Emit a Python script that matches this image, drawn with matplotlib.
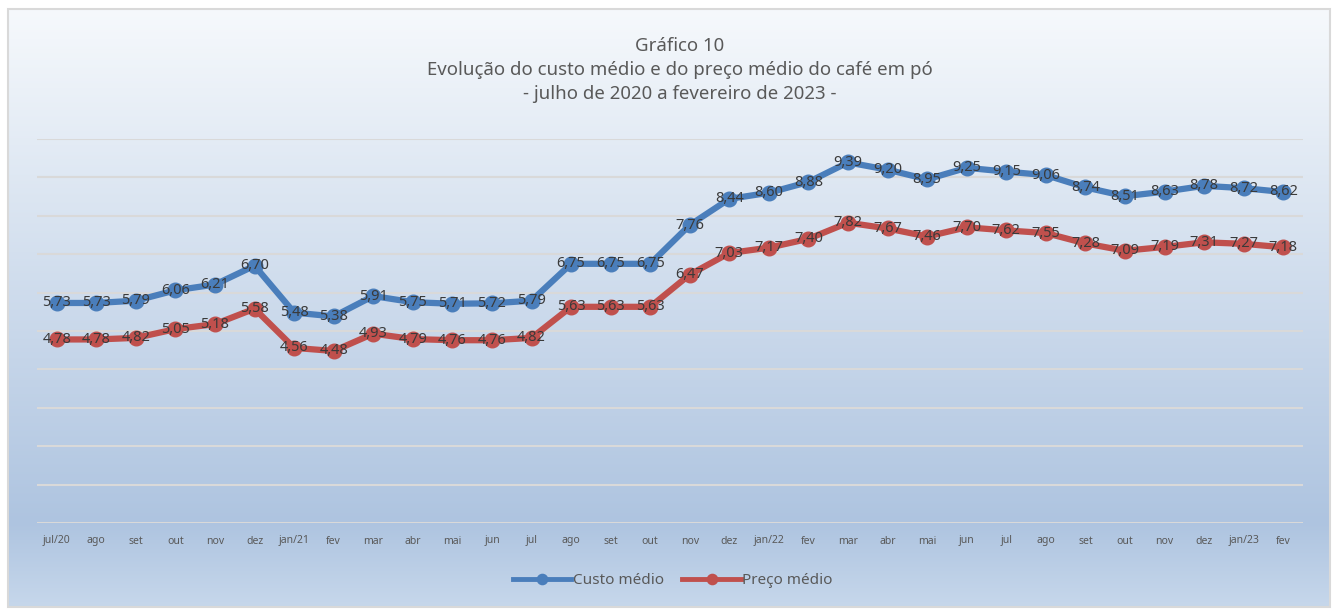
import numpy as np
import matplotlib
matplotlib.use("Agg")
import matplotlib.pyplot as plt
from matplotlib.colors import LinearSegmentedColormap
from matplotlib.patches import Rectangle

plt.rcParams['font.family'] = ['Noto Sans', 'DejaVu Sans']

# Data
meses = ['jul/20', 'ago', 'set', 'out', 'nov', 'dez', 'jan/21', 'fev', 'mar', 'abr',
         'mai', 'jun', 'jul', 'ago', 'set', 'out', 'nov', 'dez', 'jan/22', 'fev',
         'mar', 'abr', 'mai', 'jun', 'jul', 'ago', 'set', 'out', 'nov', 'dez',
         'jan/23', 'fev']
custo_medio = [5.73, 5.73, 5.79, 6.06, 6.21, 6.70, 5.48, 5.38, 5.91, 5.75,
               5.71, 5.72, 5.79, 6.75, 6.75, 6.75, 7.76, 8.44, 8.60, 8.88,
               9.39, 9.20, 8.95, 9.25, 9.15, 9.06, 8.74, 8.51, 8.63, 8.78,
               8.72, 8.62]
preco_medio = [4.78, 4.78, 4.82, 5.05, 5.18, 5.58, 4.56, 4.48, 4.93, 4.79,
               4.76, 4.76, 4.82, 5.63, 5.63, 5.63, 6.47, 7.03, 7.17, 7.40,
               7.82, 7.67, 7.46, 7.70, 7.62, 7.55, 7.28, 7.09, 7.19, 7.31,
               7.27, 7.18]

W, H = 1336, 610
fig = plt.figure(figsize=(W / 100, H / 100), dpi=100)

# gradient background inside the chart border
bg = fig.add_axes([0, 0, 1, 1], zorder=-10)
bg.set_xlim(0, W)
bg.set_ylim(H, 0)
bg.axis('off')
cmap = LinearSegmentedColormap.from_list('bg', [(0, '#f6f9fc'), (0.86, '#aec4e0'), (1, '#c6d7eb')])
grad = np.linspace(0, 1, 256).reshape(-1, 1)
bg.imshow(grad, cmap=cmap, aspect='auto', extent=[8, 1330, 607, 9], zorder=0)
bg.add_patch(Rectangle((8, 9), 1322, 598, fill=False, edgecolor='#d9d9d9', linewidth=1.5, zorder=1))

ax = fig.add_axes([37 / W, 1 - 523 / H, (1303 - 37) / W, (523 - 139) / H])
ax.set_facecolor('none')
x = np.arange(len(meses))

azul = '#4a7ebb'
vermelho = '#c0504d'
ax.plot(x, custo_medio, color=azul, linewidth=4.5, marker='o', markersize=10.5,
        label='Custo médio', zorder=3)
ax.plot(x, preco_medio, color=vermelho, linewidth=4.5, marker='o', markersize=10.5,
        label='Preço médio', zorder=3)

for xi, v in zip(x, custo_medio):
    ax.text(xi, v, f'{v:.2f}'.replace('.', ','), ha='center', va='center',
            fontsize=10.5, color='#3a3a3a', zorder=5)
for xi, v in zip(x, preco_medio):
    ax.text(xi, v, f'{v:.2f}'.replace('.', ','), ha='center', va='center',
            fontsize=10.5, color='#3a3a3a', zorder=5)

ax.set_xlim(-0.5, len(meses) - 0.5)
ax.set_ylim(0, 10)
ax.set_yticks(np.arange(0, 11, 1))
ax.set_yticklabels([])
ax.tick_params(axis='y', length=0)
ax.set_xticks(x)
ax.set_xticklabels(meses, fontsize=7.5, color='#595959')
ax.tick_params(axis='x', length=0, pad=9)
ax.grid(axis='y', color='#d9d9d9', linewidth=1.5, zorder=0)
ax.set_axisbelow(True)
for s in ax.spines.values():
    s.set_visible(False)

fig.text(680 / W, 1 - 70 / H,
         'Gráfico 10\nEvolução do custo médio e do preço médio do café em pó\n- julho de 2020 a fevereiro de 2023 -',
         ha='center', va='center', fontsize=13.4, color='#595959', linespacing=1.42)

leg = fig.legend(loc='center', bbox_to_anchor=(673 / W, 1 - 581 / H), ncol=2, frameon=False,
                 fontsize=11, labelcolor='#595959', handlelength=3.8, columnspacing=1.2,
                 handletextpad=0.1, markerscale=0.7)
for line in leg.get_lines():
    line.set_linewidth(3.5)

fig.savefig('out.png', dpi=100)
